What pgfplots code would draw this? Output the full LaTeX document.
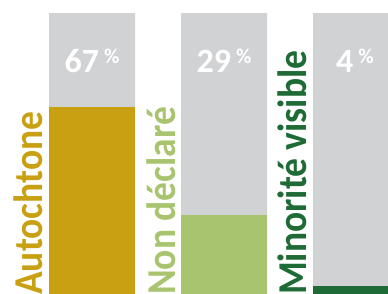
\documentclass[border=0pt]{standalone}
\usepackage{fontspec}
\setmainfont{Carlito}
\usepackage{graphicx}
\usepackage{pgfplots}
\pgfplotsset{compat=1.18}
\definecolor{gbar}{HTML}{D1D2D4}
\definecolor{gold}{HTML}{C9A012}
\definecolor{lgreen}{HTML}{A8C46E}
\definecolor{dgreen}{HTML}{1E6B35}
\newcommand{\pct}[1]{#1\hspace{5bp}\raisebox{9bp}{\fontsize{21bp}{22bp}\selectfont\%}}
\newcommand{\lab}[1]{\scalebox{0.915}[1]{#1}}
\begin{document}
\begin{tikzpicture}
\begin{axis}[
  width=388bp, height=294bp, scale only axis,
  xmin=0, xmax=388, ymin=1.056, ymax=104.58,
  axis lines=none, ticks=none, clip=true,
  every axis plot/.append style={ybar, bar width=86, bar shift=0pt, draw=none},
]
\addplot[fill=gbar] coordinates {(92,100) (224,100) (356,100)};
\addplot[fill=gold] coordinates {(92,67)};
\addplot[fill=lgreen] coordinates {(224,29)};
\addplot[fill=dgreen] coordinates {(356,4)};

\node[rotate=90, anchor=base west, text=gold, inner sep=0pt,
  font=\fontsize{41bp}{43bp}\selectfont\bfseries] at (axis cs:42,0.7) {\lab{Autochtone}};
\node[rotate=90, anchor=base west, text=lgreen, inner sep=0pt,
  font=\fontsize{41bp}{43bp}\selectfont\bfseries] at (axis cs:175,0.7) {\lab{Non déclaré}};
\node[rotate=90, anchor=base west, text=dgreen, inner sep=0pt,
  font=\fontsize{41bp}{43bp}\selectfont\bfseries] at (axis cs:306,0.7) {\lab{Minorité visible}};

\node[anchor=base, text=white, inner sep=0pt,
  font=\fontsize{34bp}{36bp}\selectfont\bfseries] at (axis cs:92,79.2) {\pct{67}};
\node[anchor=base, text=white, inner sep=0pt,
  font=\fontsize{34bp}{36bp}\selectfont\bfseries] at (axis cs:224,79.2) {\pct{29}};
\node[anchor=base, text=white, inner sep=0pt,
  font=\fontsize{34bp}{36bp}\selectfont\bfseries] at (axis cs:355,79.2) {\pct{4}};
\end{axis}
\pgfresetboundingbox
\path[use as bounding box] (current axis.south west) rectangle (current axis.north east);
\end{tikzpicture}
\end{document}
